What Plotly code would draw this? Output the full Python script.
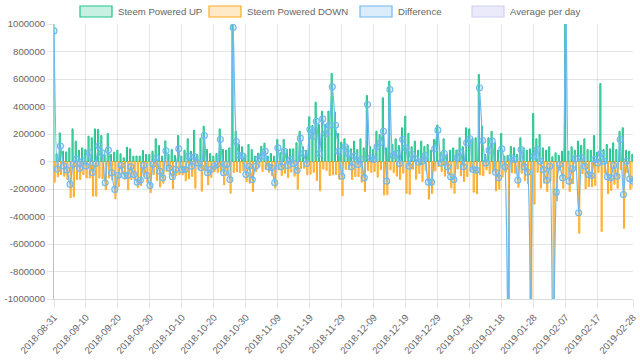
import pandas as pd
import plotly.graph_objects as go

# ---------------- data (values in thousands) ----------------
DATES = pd.date_range("2018-08-31", "2019-02-28").strftime("%Y-%m-%d").tolist()

UP_K = [
    1100, 56, 208, 75, 70, 99, 237, 148, 82, 99, 87, 184, 172, 237, 233, 189, 51, 204, 51, 68,
    82, 56, 27, 104, 92, 39, 39, 39, 80, 51, 51, 75, 165, 116, 39, 150, 51, 87, 44, 189,
    39, 82, 165, 75, 228, 51, 170, 257, 87, 58, 39, 58, 237, 87, 82, 99, 1055, 220, 124, 107,
    51, 124, 87, 39, 60, 111, 133, 39, 58, 39, 160, 63, 160, 87, 92, 92, 136, 220, 107, 82,
    325, 262, 431, 269, 366, 269, 366, 640, 359, 204, 141, 165, 116, 92, 148, 87, 165, 99, 480, 107,
    87, 220, 196, 463, 99, 584, 124, 165, 116, 245, 330, 204, 107, 148, 82, 148, 110, 124, 82, 160,
    265, 63, 165, 51, 82, 99, 82, 172, 107, 245, 237, 165, 172, 633, 257, 51, 172, 220, 136, 82,
    204, 39, 44, 110, 100, 51, 172, 99, 82, 92, 349, 165, 196, 99, 82, 107, 34, 63, 44, 75,
    1350, 75, 107, 82, 148, 116, 165, 87, 82, 189, 68, 567, 87, 124, 92, 136, 87, 220, 245, 82,
    75, 51,
]
DOWN_K = [
    -150, -111, -95, -107, -131, -264, -257, -131, -131, -95, -119, -120, -252, -252, -120, -126, -206, -120, -133, -271,
    -184, -85, -129, -206, -131, -134, -189, -175, -109, -153, -226, -95, -138, -186, -158, -72, -99, -198, -102, -97,
    -97, -140, -126, -109, -194, -61, -216, -68, -169, -116, -73, -80, -77, -169, -104, -230, -80, -75, -80, -68,
    -146, -158, -218, -73, -41, -72, -58, -78, -104, -194, -61, -102, -85, -116, -77, -107, -201, -50, -49, -97,
    -92, -78, -138, -213, -56, -65, -102, -97, -95, -129, -248, -58, -60, -131, -109, -109, -150, -218, -65, -80,
    -72, -113, -60, -243, -242, -60, -80, -107, -131, -85, -231, -238, -56, -129, -87, -146, -66, -274, -232, -68,
    -37, -73, -107, -90, -193, -230, -55, -104, -146, -109, -72, -223, -235, -97, -104, -61, -90, -72, -214, -201,
    -112, -78, -1450, -83, -85, -187, -85, -138, -160, -1900, -310, -78, -194, -157, -218, -141, -1600, -286, -66, -194,
    -120, -218, -160, -63, -521, -89, -199, -182, -184, -174, -78, -509, -85, -235, -211, -165, -194, -60, -485, -80,
    -201, -194,
]
DIFF_K = [
    950, -55, 113, -32, -61, -165, -20, 17, -49, 4, -32, 64, -80, -15, 113, 63, -155, 84, -82, -203,
    -102, -29, -102, -102, -39, -95, -150, -136, -29, -102, -175, -20, 27, -70, -119, 78, -48, -111, -58, 92,
    -58, -58, 39, -34, 34, -10, -46, 189, -82, -58, -34, -22, 160, -82, -22, -131, 975, 145, 44, 39,
    -95, -34, -131, -34, 19, 39, 75, -39, -46, -155, 99, -39, 75, -29, 15, -15, -65, 170, 58, -15,
    233, 184, 293, 56, 310, 204, 264, 543, 264, 75, -107, 107, 56, -39, 39, -22, 15, -119, 415, 27,
    15, 107, 136, 220, -143, 524, 44, 58, -15, 160, 99, -34, 51, 19, -5, 2, 44, -150, -150, 92,
    228, -10, 58, -39, -111, -131, 27, 68, -39, 136, 165, -58, -63, 536, 153, -10, 82, 148, -78, -119,
    92, -39, -1406, 27, 15, -136, 87, -39, -78, -1808, 39, 87, 2, -58, -136, -34, -1566, -223, -22, -119,
    1230, -143, -53, 19, -373, 27, -34, -95, -102, 15, -10, 58, 2, -111, -119, -29, -107, 160, -240, 2,
    -126, -143,
]

UP = [v * 1000 for v in UP_K]
DOWN = [v * 1000 for v in DOWN_K]
DIFF = [v * 1000 for v in DIFF_K]

X_TICKS = ["2018-08-31", "2018-09-10", "2018-09-20", "2018-09-30", "2018-10-10", "2018-10-20",
           "2018-10-30", "2018-11-09", "2018-11-19", "2018-11-29", "2018-12-09", "2018-12-19",
           "2018-12-29", "2019-01-08", "2019-01-18", "2019-01-28", "2019-02-07", "2019-02-17",
           "2019-02-28"]
Y_TICKS = [-1000000, -800000, -600000, -400000, -200000, 0, 200000, 400000, 600000, 800000, 1000000]
Y_TICK_TEXT = [str(v) for v in Y_TICKS]

NAMES = ["Steem Powered UP", "Steem Powered DOWN", "Difference", "Average per day"]

# ---------------- style ----------------
GREEN = "rgb(34,196,140)"
GREEN_F = "rgba(34,196,140,0.6)"
GREEN_LF = "rgba(34,196,140,0.25)"
ORANGE = "rgb(255,170,36)"
ORANGE_F = "rgba(255,170,36,0.6)"
ORANGE_LF = "rgba(255,170,36,0.25)"
BLUE = "rgb(110,185,240)"
BLUE_F = "rgba(110,185,240,0.25)"
LAV = "rgb(208,208,245)"
LAV_F = "rgba(225,225,250,0.7)"
FONT = "Liberation Sans, Arial, sans-serif"
TXT = "#666666"

L, R, T, B = 54, 7, 24, 62
W, H = 640, 361
PW, PH = W - L - R, H - T - B

fig = go.Figure()
fig.add_trace(go.Bar(x=DATES, y=UP, name=NAMES[0], marker=dict(color=GREEN_F, line=dict(color=GREEN, width=1)),
                     showlegend=False))
fig.add_trace(go.Bar(x=DATES, y=DOWN, name=NAMES[1], marker=dict(color=ORANGE_F, line=dict(color=ORANGE, width=1)),
                     showlegend=False))
fig.add_trace(go.Scatter(x=DATES, y=DIFF, name=NAMES[2], mode="lines+markers",
                         line=dict(color=BLUE, width=1.2, shape="spline", smoothing=0.6),
                         marker=dict(size=6, color=BLUE_F, line=dict(color=BLUE, width=1.1)),
                         showlegend=False))
fig.add_trace(go.Scatter(x=DATES, y=[None] * len(DATES), name=NAMES[3], mode="lines",
                         line=dict(color=LAV), showlegend=False))

# custom Chart.js-like legend
def px2x(px):
    return (px - L) / PW

def py2y(py):
    return (H - B - py) / PH

box_x = [80, 209, 360, 472]
fills = [GREEN_LF, ORANGE_LF, BLUE_F, LAV_F]
lines = [GREEN, ORANGE, BLUE, LAV]
for i, name in enumerate(NAMES):
    fig.add_shape(type="rect", xref="paper", yref="paper",
                  x0=px2x(box_x[i]), x1=px2x(box_x[i] + 32), y0=py2y(17), y1=py2y(6),
                  fillcolor=fills[i], line=dict(color=lines[i], width=1.2))
    fig.add_annotation(xref="paper", yref="paper", x=px2x(box_x[i] + 36), y=py2y(11.5),
                       text=name, showarrow=False, xanchor="left", yanchor="middle",
                       font=dict(family=FONT, size=9.6, color=TXT))

fig.update_layout(
    width=W, height=H,
    margin=dict(l=L, r=R, t=T, b=B, pad=0, autoexpand=False),
    paper_bgcolor="white", plot_bgcolor="white",
    barmode="group", bargap=0.2, bargroupgap=0.1,
    font=dict(family=FONT, size=9.6, color=TXT),
    showlegend=False,
)
fig.update_xaxes(
    type="category", range=[0, len(DATES) - 1], automargin=False,
    tickmode="array", tickvals=X_TICKS, ticktext=X_TICKS, tickangle=-48,
    showgrid=True, gridcolor="rgba(0,0,0,0.1)", gridwidth=1,
    ticks="outside", ticklen=8, tickcolor="rgba(0,0,0,0.1)",
    showline=True, linecolor="rgba(0,0,0,0.15)", linewidth=1,
    tickfont=dict(family=FONT, size=9.6, color=TXT),
)
fig.update_yaxes(
    range=[-1000000, 1000000], automargin=False,
    tickmode="array", tickvals=Y_TICKS, ticktext=Y_TICK_TEXT,
    showgrid=True, gridcolor="rgba(0,0,0,0.1)", gridwidth=1,
    ticks="outside", ticklen=6, tickcolor="rgba(0,0,0,0.1)",
    showline=True, linecolor="rgba(0,0,0,0.25)", linewidth=1,
    zeroline=True, zerolinecolor="rgba(0,0,0,0.25)", zerolinewidth=1,
    tickfont=dict(family=FONT, size=9.6, color=TXT),
)

fig.write_html("out.html", config={"displayModeBar": False},
               post_script="document.body.style.margin='0';document.body.style.overflow='hidden';")
